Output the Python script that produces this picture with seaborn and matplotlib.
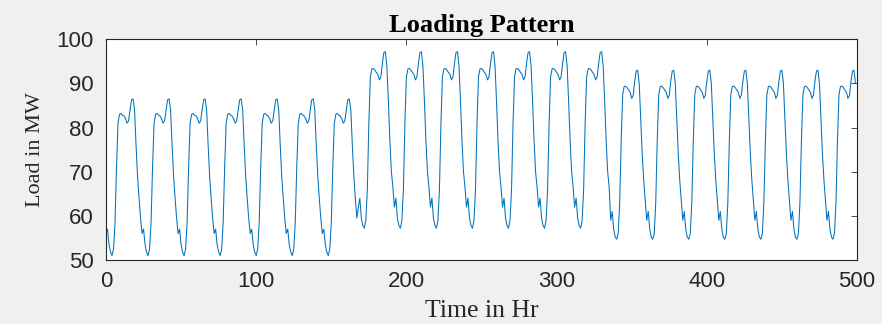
import numpy as np
import pandas as pd
import matplotlib
matplotlib.use("Agg")
import matplotlib.pyplot as plt
import seaborn as sns

# Hourly load (MW) for one typical day of each period (hour 0..23)
hours = list(range(24))
week1_day = [56, 57, 53.5, 51.8, 51, 52.5, 58.5, 71, 81, 83, 83.2, 82.8,
             82.6, 82, 81, 81.5, 84, 86.3, 86.5, 84, 76, 69, 64, 59.5]
week2_day = [62, 64, 59.5, 57.8, 57.2, 59, 66, 81, 91.5, 93.3, 93.4, 93,
             92.5, 92, 90.8, 91.5, 94.5, 97, 97.2, 94, 86, 77, 70, 66.5]
week3_day = [59, 61, 57, 55.2, 54.7, 56, 63, 77, 87.5, 89.3, 89.4, 89,
             88.5, 88, 86.6, 87.3, 90.5, 92.8, 93, 90, 82, 74, 68, 63.5]
period_hours = [168, 168, 164]   # length of each period in hours
period_days = [week1_day, week2_day, week3_day]

load = []
for prof, n in zip(period_days, period_hours):
    for k in range(n):
        load.append(prof[k % 24])
time_hr = list(range(len(load)))

df = pd.DataFrame({"Time": time_hr, "Load": load})

sns.set_style("white")
plt.rcParams["font.family"] = ["Liberation Sans", "DejaVu Sans"]

fig = plt.figure(figsize=(8.82, 3.24), dpi=100, facecolor="#F0F0F0")
ax = fig.add_axes([106/882, 1-260/324, (857-106)/882, (260-39.3)/324])
ax.set_facecolor("white")

sns.lineplot(data=df, x="Time", y="Load", ax=ax, color="#0072BD", linewidth=0.75)

ax.set_xlim(0, 500)
ax.set_ylim(50, 100)
ax.set_xticks([0, 100, 200, 300, 400, 500])
ax.set_yticks([50, 60, 70, 80, 90, 100])

for s in ax.spines.values():
    s.set_visible(True)
    s.set_color("#262626")
    s.set_linewidth(0.8)

ax.tick_params(direction="in", top=True, right=True, length=4, width=0.6,
               colors="#262626", labelsize=16, labelcolor="#262626")
ax.tick_params(axis="x", pad=8)
ax.tick_params(axis="y", pad=9)

serif = ["Liberation Serif", "DejaVu Serif"]
ax.set_title("Loading Pattern", fontsize=19, fontweight="bold", family=serif,
             color="black", pad=5)
ax.set_xlabel("Time in Hr", fontsize=18.5, family=serif, color="#262626", labelpad=6)
ax.set_ylabel("Load in MW", fontsize=16, family=serif, color="#262626", labelpad=8)

fig.savefig("out.png", dpi=100, facecolor=fig.get_facecolor())
